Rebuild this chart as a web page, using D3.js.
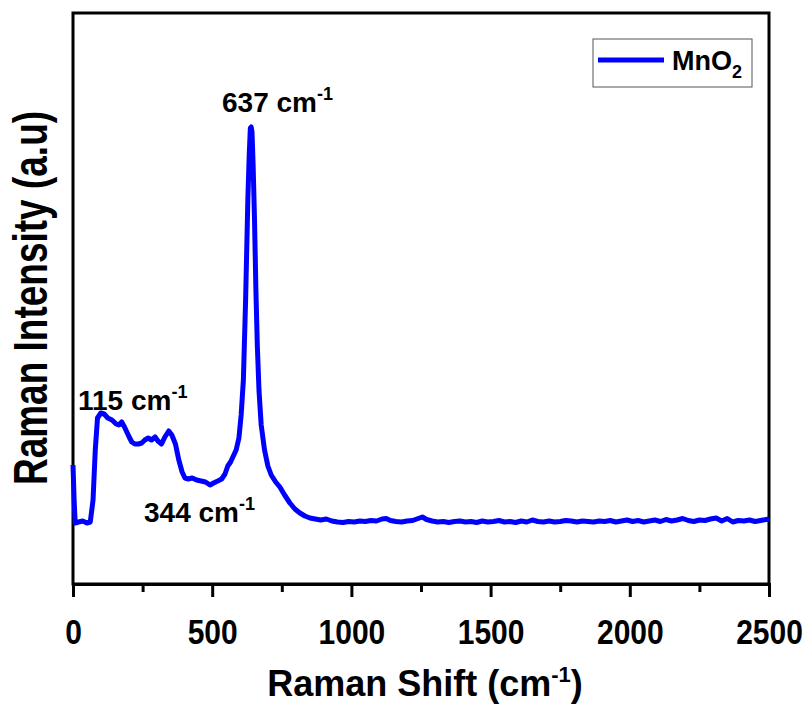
<!DOCTYPE html>
<html>
<head>
<meta charset="utf-8">
<script src="https://cdn.jsdelivr.net/npm/d3@7"></script>
<style>
  body { margin: 0; background: #fff; }
  text { font-family: "Liberation Sans", Arial, sans-serif; font-weight: bold; }
</style>
</head>
<body>
<div id="chart"></div>
<script>
'use strict';
// Raman spectrum of MnO2
const shift = [0, 4, 8, 20, 35, 50, 62, 72, 80, 88, 100, 112, 125, 140, 155, 165, 175, 185, 200, 211,
  222, 235, 247, 258, 270, 282, 295, 305, 318, 330, 344, 355, 368, 380, 392, 402, 414, 428, 444, 460,
  476, 492, 505, 520, 534, 546, 556, 566, 576, 586, 596, 604, 612, 620, 628, 633, 637, 640, 643, 647,
  652, 657, 662, 668, 676, 688, 700, 712, 728, 743, 760, 779, 797, 815, 833, 851, 870, 890, 910, 930,
  950, 970, 990, 1010, 1030, 1050, 1070, 1090, 1110, 1125, 1140, 1160, 1180, 1200, 1220, 1240, 1255, 1270, 1290, 1310,
  1330, 1350, 1370, 1390, 1410, 1430, 1450, 1470, 1490, 1510, 1530, 1550, 1570, 1590, 1610, 1630, 1650, 1670, 1690, 1710,
  1730, 1750, 1770, 1790, 1810, 1830, 1850, 1870, 1890, 1910, 1930, 1950, 1970, 1990, 2010, 2030, 2050, 2070, 2090, 2110,
  2130, 2150, 2170, 2190, 2210, 2230, 2250, 2270, 2290, 2310, 2330, 2350, 2370, 2390, 2410, 2430, 2450, 2470, 2490, 2500];
const intensity = [238, 168, 122, 124, 126, 122, 124, 168, 268, 332, 342, 340, 332, 328, 320, 318, 324, 314, 296, 284,
  280, 280, 282, 288, 292, 288, 294, 286, 280, 294, 306, 298, 280, 248, 224, 212, 210, 212, 208, 206,
  204, 198, 202, 206, 210, 220, 236, 244, 256, 268, 292, 338, 408, 568, 768, 858, 912, 914, 904, 838,
  728, 588, 478, 388, 318, 268, 236, 218, 204, 194, 178, 162, 150, 142, 136, 132, 130, 128, 130, 126,
  124, 123, 125, 124, 126, 125, 127, 126, 130, 131, 127, 125, 124, 126, 127, 131, 134, 129, 126, 124,
  125, 123, 125, 126, 124, 125, 123, 126, 124, 125, 127, 124, 125, 123, 126, 124, 128, 125, 124, 126,
  124, 125, 127, 126, 124, 126, 125, 124, 126, 125, 127, 124, 126, 128, 125, 127, 124, 126, 128, 125,
  129, 126, 128, 131, 127, 125, 128, 127, 130, 132, 126, 131, 124, 127, 126, 128, 125, 127, 129, 130];

const xTicks = [0, 500, 1000, 1500, 2000, 2500];
const xMinorTicks = [250, 750, 1250, 1750, 2250];
const seriesName = 'MnO';
const peakLabels = [
  { shift: 115, text: '115 cm' },
  { shift: 344, text: '344 cm' },
  { shift: 637, text: '637 cm' }
];

const width = 808, height = 704;
const margin = { top: 13, right: 39, bottom: 120, left: 73 };
const blue = '#0000ff';

const svg = d3.select('#chart').append('svg')
  .attr('width', width)
  .attr('height', height);

const x = d3.scaleLinear().domain([0, 2500]).range([margin.left, width - margin.right]);
const y = d3.scaleLinear().domain([0, 1142]).range([height - margin.bottom, margin.top]);

const data = shift.map((s, i) => ({ s, v: intensity[i] }));

// frame
svg.append('rect')
  .attr('x', x(0)).attr('y', y(1142))
  .attr('width', x(2500) - x(0)).attr('height', y(0) - y(1142))
  .attr('fill', 'none').attr('stroke', '#000').attr('stroke-width', 3);

// minor ticks
const xMinorAxis = d3.axisBottom(x).tickValues(xMinorTicks).tickSize(8).tickFormat('');
svg.append('g').attr('transform', 'translate(0,' + y(0) + ')').call(xMinorAxis)
  .call(g => g.select('.domain').remove())
  .call(g => g.selectAll('line').attr('stroke-width', 3));

const xAxis = d3.axisBottom(x).tickValues(xTicks).tickSize(13).tickFormat(d3.format('d'));
const gx = svg.append('g').attr('transform', 'translate(0,' + y(0) + ')').call(xAxis);
gx.select('.domain').attr('stroke-width', 3);
gx.selectAll('line').attr('stroke-width', 3);
gx.selectAll('text')
  .attr('y', 0).attr('dy', 0)
  .attr('transform', 'translate(0,60) scale(1,1.16)')
  .style('font-size', '30px')
  .style('font-family', '"Liberation Sans", Arial, sans-serif')
  .style('font-weight', 'bold')
  .attr('fill', '#000');

// axis titles
const xt = svg.append('text')
  .attr('x', (x(0) + x(2500)) / 2 + 4)
  .attr('y', 696)
  .attr('text-anchor', 'middle')
  .style('font-size', '36px');
xt.append('tspan').text('Raman Shift (cm');
xt.append('tspan').attr('dy', -14).style('font-size', '22px').text('-1');
xt.append('tspan').attr('dy', 14).text(')');

svg.append('text')
  .attr('transform', 'translate(47,298) rotate(-90) scale(1,1.3)')
  .attr('text-anchor', 'middle')
  .style('font-size', '37px')
  .text('Raman Intensity (a.u)');

// spectrum
const line = d3.line().x(d => x(d.s)).y(d => y(d.v));
svg.append('path')
  .datum(data)
  .attr('d', line)
  .attr('fill', 'none')
  .attr('stroke', blue)
  .attr('stroke-width', 5)
  .attr('stroke-linejoin', 'round');

// peak labels
const labelPos = { 115: [78, 410], 344: [144, 522], 637: [222, 112] };
peakLabels.forEach(p => {
  const pos = labelPos[p.shift];
  const t = svg.append('text')
    .attr('x', pos[0]).attr('y', pos[1])
    .style('font-size', '28px');
  t.append('tspan').text(p.text);
  t.append('tspan').attr('dy', -12).style('font-size', '18px').text('-1');
});

// legend
const lg = svg.append('g');
lg.append('rect')
  .attr('x', 593).attr('y', 39).attr('width', 159).attr('height', 48)
  .attr('fill', '#fff').attr('stroke', '#555').attr('stroke-width', 1);
lg.append('line')
  .attr('x1', 598).attr('x2', 664).attr('y1', 60).attr('y2', 60)
  .attr('stroke', blue).attr('stroke-width', 5);
const lt = lg.append('text').attr('x', 672).attr('y', 70).style('font-size', '27px');
lt.append('tspan').text(seriesName);
lt.append('tspan').attr('dy', 8).style('font-size', '18px').text('2');
</script>
</body>
</html>
